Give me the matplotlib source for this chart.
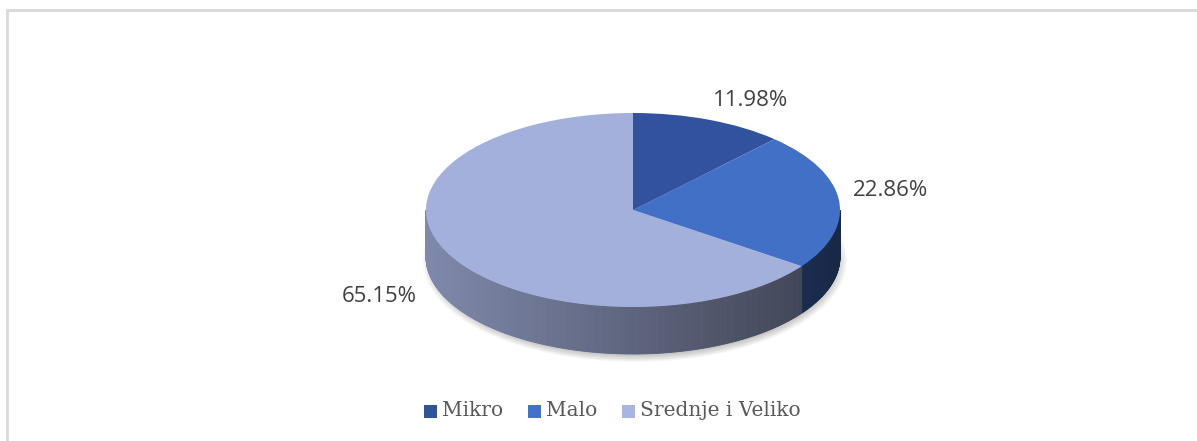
import numpy as np
import matplotlib
matplotlib.use("Agg")
import matplotlib.pyplot as plt
from matplotlib.transforms import Affine2D
from matplotlib.patches import Polygon, Ellipse, Rectangle
from matplotlib.colors import to_rgb

categories = ["Mikro", "Malo", "Srednje i Veliko"]
values = [11.98, 22.86, 65.15]
labels = ["11.98%", "22.86%", "65.15%"]
colors = ["#30529F", "#4270C6", "#A4B0DC"]
legend_colors = ["#2F5597", "#4472C4", "#A9B4E0"]

W, H = 1197, 441
fig = plt.figure(figsize=(W / 100, H / 100), dpi=100)
ax = fig.add_axes([0, 0, 1, 1])
ax.set_xlim(0, W)
ax.set_ylim(0, H)
ax.axis("off")

# chart border (top and left only are visible)
ax.plot([7, 7, W + 5], [-5, H - 10, H - 10], color="#D9D9D9", lw=2,
        solid_joinstyle="miter", clip_on=False)

cx, cy = 633, H - 210
rx, ry = 207, 97
depth = 47

# soft shadow below the pie
for i in range(8):
    ax.add_patch(Ellipse((cx + 2, cy - depth - 4), 2 * rx + 10 - i * 3, 2 * ry + 8 - i * 2,
                         color="black", alpha=0.03, lw=0, zorder=1))

wedges, _ = ax.pie(values, startangle=90, counterclock=False, colors=colors,
                   radius=1, center=(0, 0), wedgeprops=dict(lw=0))
ax.set_aspect("auto")
ax.set_xlim(0, W)
ax.set_ylim(0, H)
ax.axis("off")
tr = Affine2D().scale(rx, ry).translate(cx, cy) + ax.transData
for w in wedges:
    w.set_transform(tr)
    w.set_zorder(5)


def wall_color(base, theta):
    # darker towards the right side of the wall
    x = (np.cos(np.radians(theta)) + 1) / 2
    f = 0.78 - 0.42 * x
    return tuple(np.clip(np.array(to_rgb(base)) * f, 0, 1))


for w, c in zip(wedges, colors):
    t1, t2 = w.theta1, w.theta2
    for off in (0, -360, 360):
        a = max(t1 + off, -180)
        b = min(t2 + off, 0)
        if b <= a:
            continue
        edges = np.linspace(a, b, max(int((b - a) / 0.5), 2))
        for e0, e1 in zip(edges[:-1], edges[1:]):
            th = np.radians([e0, e1])
            xs = cx + rx * np.cos(th)
            ys = cy + ry * np.sin(th)
            pts = [(xs[0], ys[0]), (xs[1], ys[1]), (xs[1], ys[1] - depth), (xs[0], ys[0] - depth)]
            ax.add_patch(Polygon(pts, closed=True, color=wall_color(c, (e0 + e1) / 2),
                                 lw=0.6, zorder=3))

# data labels
lab_pos = [(751, H - 100), (890, H - 191), (379, H - 297)]
for (x, y), t in zip(lab_pos, labels):
    ax.text(x, y, t, ha="center", va="center", fontsize=16, color="#404040",
            family="Open Sans")

# legend
lx = [424, 528, 622]
for x, name, c in zip(lx, categories, legend_colors):
    ax.add_patch(Rectangle((x, H - 418), 13, 13, color=c, lw=0, zorder=5))
    ax.text(x + 18, H - 411, name, ha="left", va="center", fontsize=14.5,
            color="#595959", family="DejaVu Serif")

fig.savefig("out.png", dpi=100)
